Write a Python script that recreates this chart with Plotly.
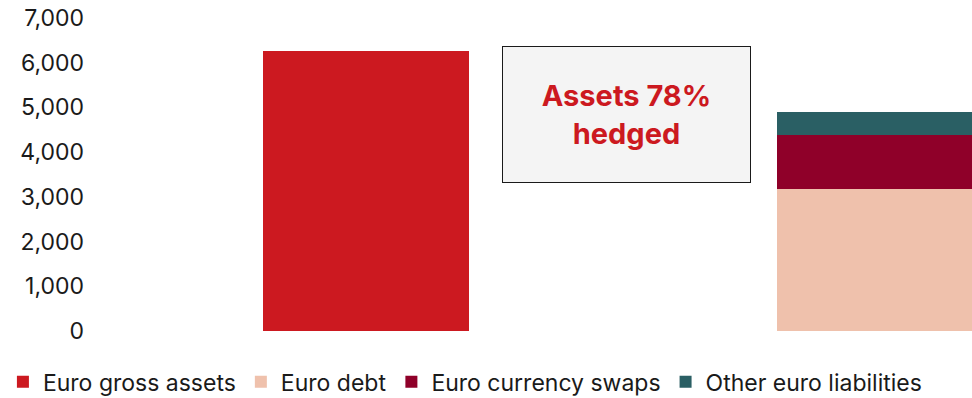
import plotly.graph_objects as go

# Categories along the x axis (middle slot carries the hedge ratio callout)
categories = ["Assets", "Hedge", "Liabilities"]

# Values in millions
gross_assets = [6260, None, None]
euro_debt = [None, None, 3180]
currency_swaps = [None, None, 1200]
other_liabilities = [None, None, 520]

series_names = ["Euro gross assets", "Euro debt", "Euro currency swaps", "Other euro liabilities"]
series_values = [gross_assets, euro_debt, currency_swaps, other_liabilities]
series_colors = ["#cc1920", "#efc1ac", "#8f0029", "#2a5f64"]

y_ticks = [0, 1000, 2000, 3000, 4000, 5000, 6000, 7000]

hedged_share = (euro_debt[2] + currency_swaps[2] + other_liabilities[2]) / gross_assets[0]

fig = go.Figure()
for name, vals, color in zip(series_names, series_values, series_colors):
    fig.add_trace(go.Bar(x=categories, y=vals, name=name, marker_color=color,
                         marker_line_width=0))

fig.add_annotation(
    x=1.012, y=4840, xref="x", yref="y",
    text=f"<b>Assets {hedged_share:.0%}<br>hedged</b>",
    showarrow=False,
    font=dict(family="Inter", size=29, color="#cc1920"),
    bgcolor="#f4f4f4", bordercolor="#1a1a1a", borderwidth=1, borderpad=0,
    width=247, height=135, align="center", valign="middle",
)

fig.update_layout(
    barmode="stack",
    bargap=0.2,
    width=972, height=398,
    margin=dict(l=95, r=0, t=18, b=67, autoexpand=False),
    plot_bgcolor="white", paper_bgcolor="white",
    font=dict(family="Inter", size=23, color="#1a1a1a"),
    xaxis=dict(range=[-1.054, 2.358], showticklabels=False, showgrid=False,
               zeroline=False, showline=False, ticks=""),
    yaxis=dict(range=[0, 7000], tickvals=y_ticks, tickformat=",", showgrid=False,
               zeroline=False, showline=False, ticks="", ticklabelstandoff=10),
    legend=dict(orientation="h", x=-0.105, xanchor="left", y=-0.094, yanchor="top",
                font=dict(family="Inter", size=23, color="#1a1a1a"),
                traceorder="normal", itemwidth=30, tracegroupgap=0),
    showlegend=True,
)

fig.write_html("out.html")
